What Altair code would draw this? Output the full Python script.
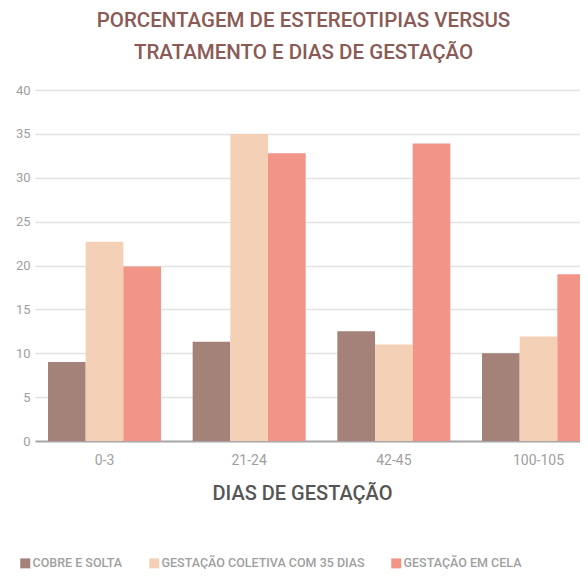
import altair as alt
import pandas as pd

categorias = ["0-3", "21-24", "42-45", "100-105"]
series = ["COBRE E SOLTA", "GESTAÇÃO COLETIVA COM 35 DIAS", "GESTAÇÃO EM CELA"]
cobre_e_solta = [9.0, 11.3, 12.5, 10.0]
gestacao_coletiva = [22.7, 35.0, 11.0, 11.9]
gestacao_em_cela = [19.9, 32.8, 33.9, 19.0]
cores = ["#A4827A", "#F4D0B6", "#F29587"]
y_ticks = [0, 5, 10, 15, 20, 25, 30, 35, 40]

rows = []
for s, vals in zip(series, [cobre_e_solta, gestacao_coletiva, gestacao_em_cela]):
    for c, v in zip(categorias, vals):
        rows.append({"dias": c, "serie": s, "valor": v})
df = pd.DataFrame(rows)

FONT = "Roboto"

chart = alt.Chart(df).mark_bar().encode(
    x=alt.X("dias:N", sort=categorias,
            scale=alt.Scale(paddingInner=0.219, paddingOuter=0.09),
            axis=alt.Axis(title="DIAS DE GESTAÇÃO", labelAngle=0, ticks=False,
                          labelAlign="center", labelFlush=False,
                          labelBound=False, labelOverlap=False,
                          domainColor="#a8a8a8", domainWidth=2,
                          labelColor="#a0a0a0", labelFontSize=14, labelPadding=12,
                          labelFont=FONT,
                          titleFont=FONT, titleFontSize=20, titleFontWeight=500,
                          titleColor="#555555", titlePadding=16, titleX=267)),
    xOffset=alt.XOffset("serie:N", sort=series,
                        scale=alt.Scale(paddingInner=0, paddingOuter=0)),
    y=alt.Y("valor:Q", scale=alt.Scale(domain=[0, 40], nice=False),
            axis=alt.Axis(title=None, values=y_ticks, domain=False, ticks=False,
                          labelColor="#a0a0a0", labelFontSize=13, labelPadding=5,
                          labelFont=FONT,
                          gridColor="#e2e2e2", gridWidth=1.5)),
    color=alt.Color("serie:N", sort=series,
                    scale=alt.Scale(domain=series, range=cores),
                    legend=alt.Legend(title=None, orient="none", direction="horizontal",
                                      legendX=-16, legendY=467, columns=3,
                                      columnPadding=25, symbolType="square",
                                      symbolSize=100, symbolStrokeWidth=0,
                                      symbolOpacity=1, labelOffset=1,
                                      labelFont=FONT, labelFontSize=12.5,
                                      labelFontWeight=500,
                                      labelColor="#a0a0a0", labelLimit=400)),
).properties(
    width=573,
    height=351,
    autosize=alt.AutoSizeParams(type="none"),
    title=alt.TitleParams(
        text=["PORCENTAGEM DE ESTEREOTIPIAS VERSUS", "TRATAMENTO E DIAS DE GESTAÇÃO"],
        font=FONT, fontSize=20.5, fontWeight=500, color="#8A5A55",
        lineHeight=32, anchor="middle", dx=-18, offset=21),
    padding={"top": 82, "left": 27, "right": -28, "bottom": 128},
).configure_view(stroke=None)

chart.save("out.html", embed_options={"renderer": "svg", "actions": False})
